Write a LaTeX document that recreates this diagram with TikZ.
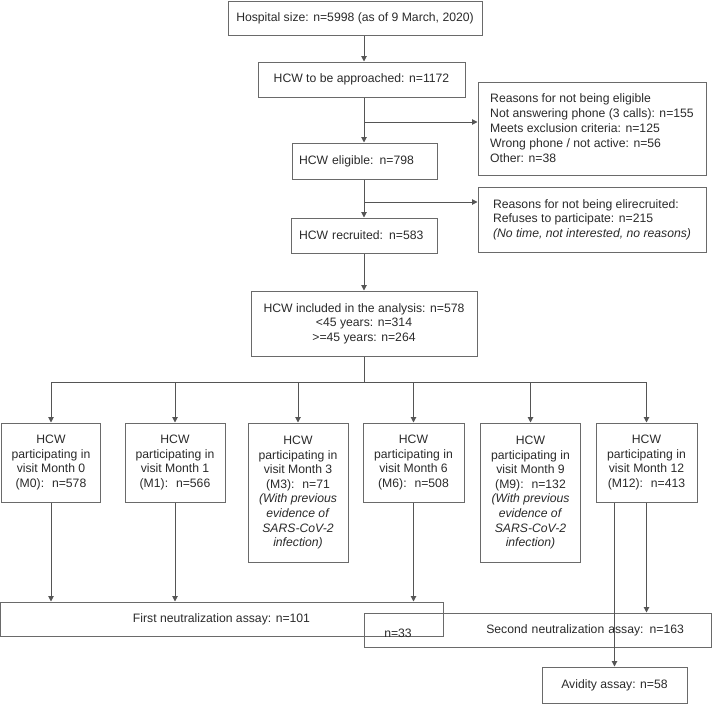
\documentclass[tikz,border=0pt]{standalone}
\usepackage{fontspec}
\setmainfont{Liberation Sans}
\usetikzlibrary{arrows.meta}
\definecolor{boxcol}{HTML}{6A6A6A}
\definecolor{linecol}{HTML}{555555}
\definecolor{txtcol}{HTML}{2A2A2A}
\begin{document}
\begin{tikzpicture}[x=1pt,y=-1pt,
  bx/.style={draw=boxcol, line width=1pt, inner sep=0pt, text=txtcol, font=\fontsize{12.2}{14.6}\selectfont},
  txt/.style={inner sep=0pt, text=txtcol, font=\fontsize{12.2}{14.6}\selectfont},
  arr/.style={draw=linecol, line width=1pt, -{Triangle[length=5.5pt,width=5.5pt]}},
  ln/.style={draw=linecol, line width=1pt}]
\useasboundingbox (0,0) rectangle (712,704);

% main column
\node[bx, minimum width=254, minimum height=34, align=center] (top) at (355,18) {Hospital size: n=5998 (as of 9 March, 2020)};
\node[bx, minimum width=207, minimum height=35, align=center] (appr) at (361.5,79.5) {HCW to be approached: n=1172};
\node[bx, minimum width=145, minimum height=36, text width=131, align=left] (elig) at (364.5,161) {HCW eligible: n=798};
\node[bx, minimum width=146, minimum height=35, text width=130, align=left] (recr) at (364,235.5) {HCW recruited: n=583};
\node[bx, minimum width=226, minimum height=65, align=center] (incl) at (364,323.5) {HCW included in the analysis: n=578\\ {<}45 years: n=314\\ {>}=45 years: n=264};

% side boxes
\node[bx, minimum width=228, minimum height=93, align=left, font=\fontsize{12.2}{15}\selectfont] (rs1) at (592,128.5) {Reasons for not being eligible\\ Not answering phone (3 calls): n=155\\ Meets exclusion criteria: n=125\\ Wrong phone / not active: n=56\\ Other: n=38};
\node[bx, minimum width=228, minimum height=65, align=left] (rs2) at (592,219.5) {Reasons for not being elirecruited:\\ Refuses to participate: n=215\\ \textit{(No time, not interested, no reasons)}};

% visit boxes
\node[bx, minimum width=99, minimum height=79, align=center] (m0) at (51,462.5) {HCW\\ participating in\\ visit Month 0\\ (M0):~ n=578};
\node[bx, minimum width=100, minimum height=79, align=center] (m1) at (175,462.5) {HCW\\ participating in\\ visit Month 1\\ (M1):~ n=566};
\node[bx, minimum width=100, minimum height=139, align=center] (m3) at (298,492.5) {HCW\\ participating in\\ visit Month 3\\ (M3):~ n=71\\ \textit{(With previous}\\ \textit{evidence of}\\ \textit{SARS-CoV-2}\\ \textit{infection)}};
\node[bx, minimum width=101, minimum height=79, align=center] (m6) at (413.5,462.5) {HCW\\ participating in\\ visit Month 6\\ (M6):~ n=508};
\node[bx, minimum width=100, minimum height=139, align=center] (m9) at (530.5,492.5) {HCW\\ participating in\\ visit Month 9\\ (M9):~ n=132\\ \textit{(With previous}\\ \textit{evidence of}\\ \textit{SARS-CoV-2}\\ \textit{infection)}};
\node[bx, minimum width=101, minimum height=79, align=center] (m12) at (646.5,462.5) {HCW\\ participating in\\ visit Month 12\\ (M12):~ n=413};

% assay boxes
\node[bx, minimum width=443, minimum height=34, align=center] (first) at (221.5,619) {First neutralization assay: n=101};
\node[bx, minimum width=347, minimum height=34, text width=293, align=right] (second) at (537.5,630) {Second neutralization assay: n=163};
\node[txt] (n33) at (398,633) {n=33};
\node[bx, minimum width=145, minimum height=36, align=center] (avid) at (614.5,685) {Avidity assay: n=58};

% spine
\coordinate (sp) at (364,0);
\coordinate (b1) at (364,122);
\coordinate (b2) at (364,202);
\coordinate (bus) at (364,382);
\draw[arr] (top.south -| sp) -- (appr.north -| sp);
\draw[arr] (appr.south -| sp) -- (elig.north -| sp);
\draw[arr] (b1) -- (b1 -| rs1.west);
\draw[arr] (elig.south -| sp) -- (recr.north -| sp);
\draw[arr] (b2) -- (b2 -| rs2.west);
\draw[arr] (recr.south -| sp) -- (incl.north -| sp);
\draw[ln] (incl.south -| sp) -- (bus);
\draw[ln] (bus -| m0) -- (bus -| m12);
\foreach \m in {m0,m1,m3,m6,m9,m12} {
  \draw[arr] (bus -| \m) -- (\m.north);
}

% to assays
\draw[arr] (m0.south) -- (m0.south |- first.north);
\draw[arr] (m1.south) -- (m1.south |- first.north);
\draw[arr] (m6.south) -- (m6.south |- first.north);
\draw[arr] (m12.south) -- (m12.south |- second.north);
\draw[arr] (m12.south -| avid.north) -- (avid.north);
\end{tikzpicture}
\end{document}
